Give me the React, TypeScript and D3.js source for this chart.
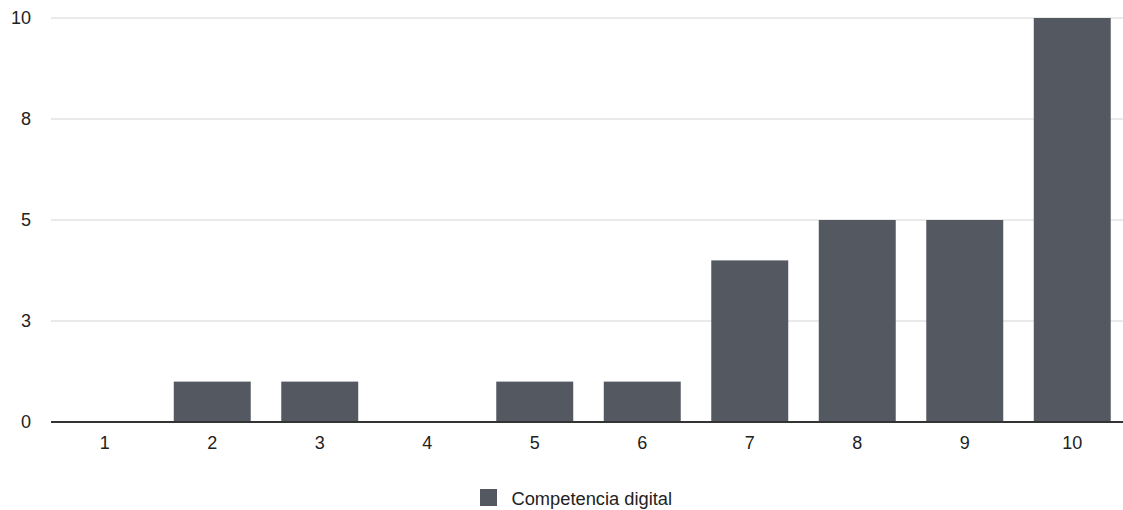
import React from "react";
import * as d3 from "d3";

const categories = ["1", "2", "3", "4", "5", "6", "7", "8", "9", "10"];
const values = [0, 1, 1, 0, 1, 1, 4, 5, 5, 10];
const yTicks = [0, 2.5, 5, 7.5, 10];
const yTickLabels = ["0", "3", "5", "8", "10"];
const seriesName = "Competencia digital";

const W = 1123;
const H = 510;
const M = { left: 51, right: -3, top: 18, bottom: 88 };
const BAR = "#545861";
const FONT = "'Liberation Sans', Arial, Helvetica, sans-serif";

export default function App() {
  const x = d3
    .scaleBand<string>()
    .domain(categories)
    .range([M.left, W - M.right])
    .paddingInner(0.284)
    .paddingOuter(0.142);
  const xc = d3.scaleBand<string>().domain(categories).range([M.left, W - M.right]);
  const y = d3.scaleLinear().domain([0, 10]).range([H - M.bottom, M.top]);

  return (
    <svg
      width={W}
      height={H}
      style={{ position: "absolute", left: 0, top: 0, background: "#fff" }}
      fontFamily={FONT}
    >
      {yTicks.map((t, i) => (
        <g key={t}>
          {t !== 0 && (
            <line x1={M.left} x2={W} y1={y(t)} y2={y(t)} stroke="#d4d4d4" strokeWidth={1} />
          )}
          <text x={31} y={y(t)} dy="0.36em" textAnchor="end" fontSize={18} fill="#222">
            {yTickLabels[i]}
          </text>
        </g>
      ))}
      {categories.map((c, i) => (
        <rect
          key={c}
          x={x(c)}
          y={y(values[i])}
          width={x.bandwidth()}
          height={y(0) - y(values[i])}
          fill={BAR}
        />
      ))}
      <line x1={M.left} x2={W} y1={y(0)} y2={y(0)} stroke="#333" strokeWidth={2} />
      {categories.map((c) => (
        <text
          key={c}
          x={(xc(c) as number) + xc.bandwidth() / 2}
          y={y(0) + 27}
          textAnchor="middle"
          fontSize={18}
          fill="#222"
        >
          {c}
        </text>
      ))}
      <rect x={480} y={489} width={17} height={17} fill={BAR} />
      <text x={511.5} y={505} fontSize={18.3} fill="#222">
        {seriesName}
      </text>
    </svg>
  );
}
